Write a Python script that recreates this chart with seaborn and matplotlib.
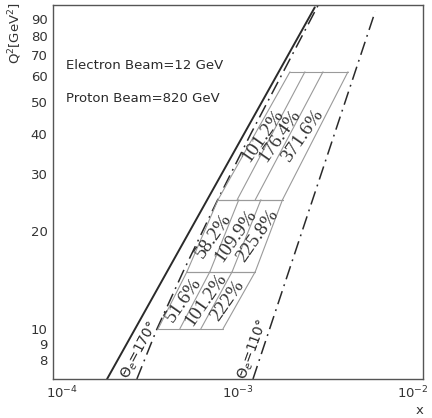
import matplotlib
matplotlib.use("Agg")
import matplotlib.pyplot as plt
import matplotlib.transforms as mtransforms
import seaborn as sns
import numpy as np
import pandas as pd
from matplotlib.ticker import FixedLocator, FixedFormatter, LogLocator, NullFormatter, LogFormatterMathtext

# ---------------- data ----------------
kin_x = [1.96e-4, 2.6e-3]          # y = 1 kinematic limit
kin_q2 = [7.0, 98.0]
th170_x = [2.84e-4, 3.65e-4, 5.05e-4, 7.77e-4, 1.175e-3, 1.705e-3, 2.70e-3]
th170_q2 = [7.0, 10.0, 15.0, 25.0, 40.0, 60.0, 99.0]
th110_x = [1.205e-3, 5.51e-3]
th110_q2 = [7.0, 95.0]

q2_edges = [10.0, 15.0, 25.0, 62.0]
row_x_low = [[3.70e-4, 4.85e-4, 6.30e-4, 8.30e-4],
             [5.30e-4, 7.05e-4, 9.30e-4, 1.24e-3],
             [7.80e-4, 9.90e-4, 1.24e-3, 1.74e-3]]
row_x_high = [[5.30e-4, 7.05e-4, 9.30e-4, 1.24e-3],
              [7.80e-4, 1.01e-3, 1.33e-3, 1.74e-3],
              [1.91e-3, 2.30e-3, 2.88e-3, 3.93e-3]]
cell_labels = [["51.6%", "101.2%", "222%"],
               ["58.2%", "109.9%", "225.8%"],
               ["101.2%", "176.4%", "371.6%"]]

x_ticks = [1e-4, 1e-3, 1e-2]
y_ticks = [8, 9, 10, 20, 30, 40, 50, 60, 70, 80, 90]
y_ticklabels = [str(v) for v in y_ticks]

# ---------------- figure ----------------
sns.set_style("white")
plt.rcParams['font.family'] = ['DejaVu Sans']
fig = plt.figure(figsize=(4.32, 4.18), dpi=100)
ax = fig.add_axes([53/432, 1-379/418, 370/432, 374.5/418])
ax.set_xscale('log')
ax.set_yscale('log')

dark = '#2a2a2a'
dd_style = (0, (9, 3.5, 1.2, 3.5))

df_kin = pd.DataFrame({'x': kin_x, 'q2': kin_q2})
df_170 = pd.DataFrame({'x': th170_x, 'q2': th170_q2})
df_110 = pd.DataFrame({'x': th110_x, 'q2': th110_q2})
sns.lineplot(data=df_kin, x='x', y='q2', ax=ax, sort=False, estimator=None,
             color=dark, lw=1.4)
sns.lineplot(data=df_170, x='x', y='q2', ax=ax, sort=False, estimator=None,
             color=dark, lw=1.1, linestyle=dd_style)
sns.lineplot(data=df_110, x='x', y='q2', ax=ax, sort=False, estimator=None,
             color=dark, lw=1.1, linestyle=dd_style)

cell_col = '#9a9a9a'
for r in range(3):
    qlo, qhi = q2_edges[r], q2_edges[r + 1]
    xl, xh = row_x_low[r], row_x_high[r]
    ax.plot([xl[0], xl[-1]], [qlo, qlo], color=cell_col, lw=0.8)
    ax.plot([xh[0], xh[-1]], [qhi, qhi], color=cell_col, lw=0.8)
    for k in range(4):
        ax.plot([xl[k], xh[k]], [qlo, qhi], color=cell_col, lw=0.8)
    for k in range(3):
        cx = 10 ** np.mean(np.log10([xl[k], xl[k + 1], xh[k], xh[k + 1]]))
        cy = np.sqrt(qlo * qhi)
        ax.text(cx, cy, cell_labels[r][k], rotation=55, ha='center', va='center',
                fontsize=14, family=['Liberation Serif'], color='#333333',
                rotation_mode='anchor')

ax.text(2.95e-4, 8.6, r'$\Theta_e$=170°', rotation=62, ha='center', va='center',
        fontsize=10, color=dark, rotation_mode='anchor')
ax.text(1.2e-3, 8.6, r'$\Theta_e$=110°', rotation=70, ha='center', va='center',
        fontsize=10, color=dark, rotation_mode='anchor')

ax.text(0.035, 0.837, 'Electron Beam=12 GeV', transform=ax.transAxes,
        fontsize=9.5, color=dark, va='center')
ax.text(0.035, 0.75, 'Proton Beam=820 GeV', transform=ax.transAxes,
        fontsize=9.5, color=dark, va='center')

ax.set_xlim(1e-4, 1e-2)
ax.set_ylim(7, 100)

ax.yaxis.set_major_locator(FixedLocator(y_ticks))
ax.yaxis.set_major_formatter(FixedFormatter(y_ticklabels))
ax.yaxis.set_minor_locator(FixedLocator([]))
ax.xaxis.set_major_locator(FixedLocator(x_ticks))
ax.xaxis.set_major_formatter(NullFormatter())
ax.xaxis.set_minor_locator(LogLocator(base=10, subs=np.arange(2, 10)))
ax.xaxis.set_minor_formatter(NullFormatter())

ax.tick_params(axis='both', which='major', direction='in', length=5, width=0.8,
               colors=dark, labelsize=9.5, labelcolor='#333333')
ax.tick_params(axis='x', which='minor', direction='in', length=3, width=0.6, colors=dark)
ax.tick_params(axis='y', which='major', pad=4)
for s in ax.spines.values():
    s.set_color('#555555')
    s.set_linewidth(1.0)
ax.set_xlabel('')
ax.set_ylabel('')

# x tick labels, end labels nudged inward as in the reference
xfmt = LogFormatterMathtext()
shifts_px = [9, 0, -10]
for xv, dx in zip(x_ticks, shifts_px):
    tr = mtransforms.blended_transform_factory(ax.transData, ax.transAxes) + \
        mtransforms.ScaledTranslation(dx / 100, -6 / 100, fig.dpi_scale_trans)
    ax.text(xv, 0, xfmt(xv), transform=tr, ha='center', va='top',
            fontsize=9.5, color='#333333', clip_on=False)

fig.text(15/432, 1-2/418, r'Q$^2$[GeV$^2$]', rotation=90, ha='center', va='top',
         fontsize=9.5, color='#333333')
fig.text(420/432, 1-410/418, 'x', ha='center', va='center', fontsize=9.5, color='#333333')

fig.savefig('out.png', dpi=100)
